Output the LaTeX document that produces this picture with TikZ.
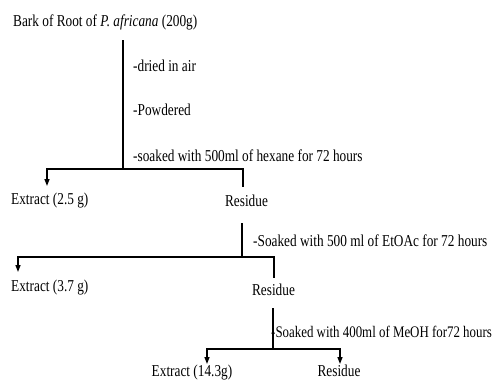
\documentclass[tikz,border=0pt]{standalone}
\usepackage{graphicx}
\usepackage{fontspec}
\setmainfont{Liberation Serif}
\usetikzlibrary{arrows.meta}
\newcommand{\vstretch}[1]{\scalebox{1}[1.25]{#1}}
\tikzset{
  lbl/.style={inner sep=0pt, font=\fontsize{13.3}{15}\selectfont},
  conn/.style={line width=1.3pt, black},
  arr/.style={conn, -{Triangle[width=5pt,length=7pt]}}
}
\begin{document}
\begin{tikzpicture}[x=1pt,y=-1pt]
\useasboundingbox (0,0) rectangle (497,381);
% text nodes
\node[lbl, anchor=west] (title) at (13,22) {\vstretch{Bark of Root of \textit{P. africana} (200g)}};
\node[lbl, anchor=west] (s1) at (133,66) {\vstretch{-dried in air}};
\node[lbl, anchor=west] (s2) at (133,110) {\vstretch{-Powdered}};
\node[lbl, anchor=west] (s3) at (133,156) {\vstretch{-soaked with 500ml of hexane for 72 hours}};
\node[lbl, anchor=west] (e1) at (11,201) {\vstretch{Extract (2.5 g)}};
\node[lbl] (r1) at (246.5,201) {\vstretch{Residue}};
\node[lbl, anchor=west] (s4) at (253,241) {\vstretch{-Soaked with 500 ml of EtOAc for 72 hours}};
\node[lbl, anchor=west] (e2) at (11,288) {\vstretch{Extract (3.7 g)}};
\node[lbl] (r2) at (273.5,290) {\vstretch{Residue}};
\node[lbl, anchor=west, font=\fontsize{12.9}{15}\selectfont] (s5) at (271,332) {\vstretch{-Soaked with 400ml of MeOH for72 hours}};
\node[lbl, anchor=base] (e3) at (192,376) {\vstretch{Extract (14.3g)}};
\node[lbl, anchor=base] (r3) at (339,376) {\vstretch{Residue}};
% junction coordinates
\coordinate (t1) at (123,40);
\coordinate (j1) at (123,169);
\coordinate (a1) at (47,186);
\coordinate (b1) at (243,187);
\coordinate (t2) at (242,223);
\coordinate (j2) at (242,257);
\coordinate (a2) at (18,272);
\coordinate (b2) at (274,278);
\coordinate (t3) at (273,308);
\coordinate (j3) at (273,349);
\coordinate (a3) at (207,364);
\coordinate (b3) at (340,364);
% connectors
\draw[conn] (t1) -- (j1);
\draw[arr] (j1) -| (a1);
\draw[conn] (j1) -| (b1);
\draw[conn] (t2) -- (j2);
\draw[arr] (j2) -| (a2);
\draw[conn] (j2) -| (b2);
\draw[conn] (t3) -- (j3);
\draw[arr] (j3) -| (a3);
\draw[arr] (j3) -| (b3);
\end{tikzpicture}
\end{document}
